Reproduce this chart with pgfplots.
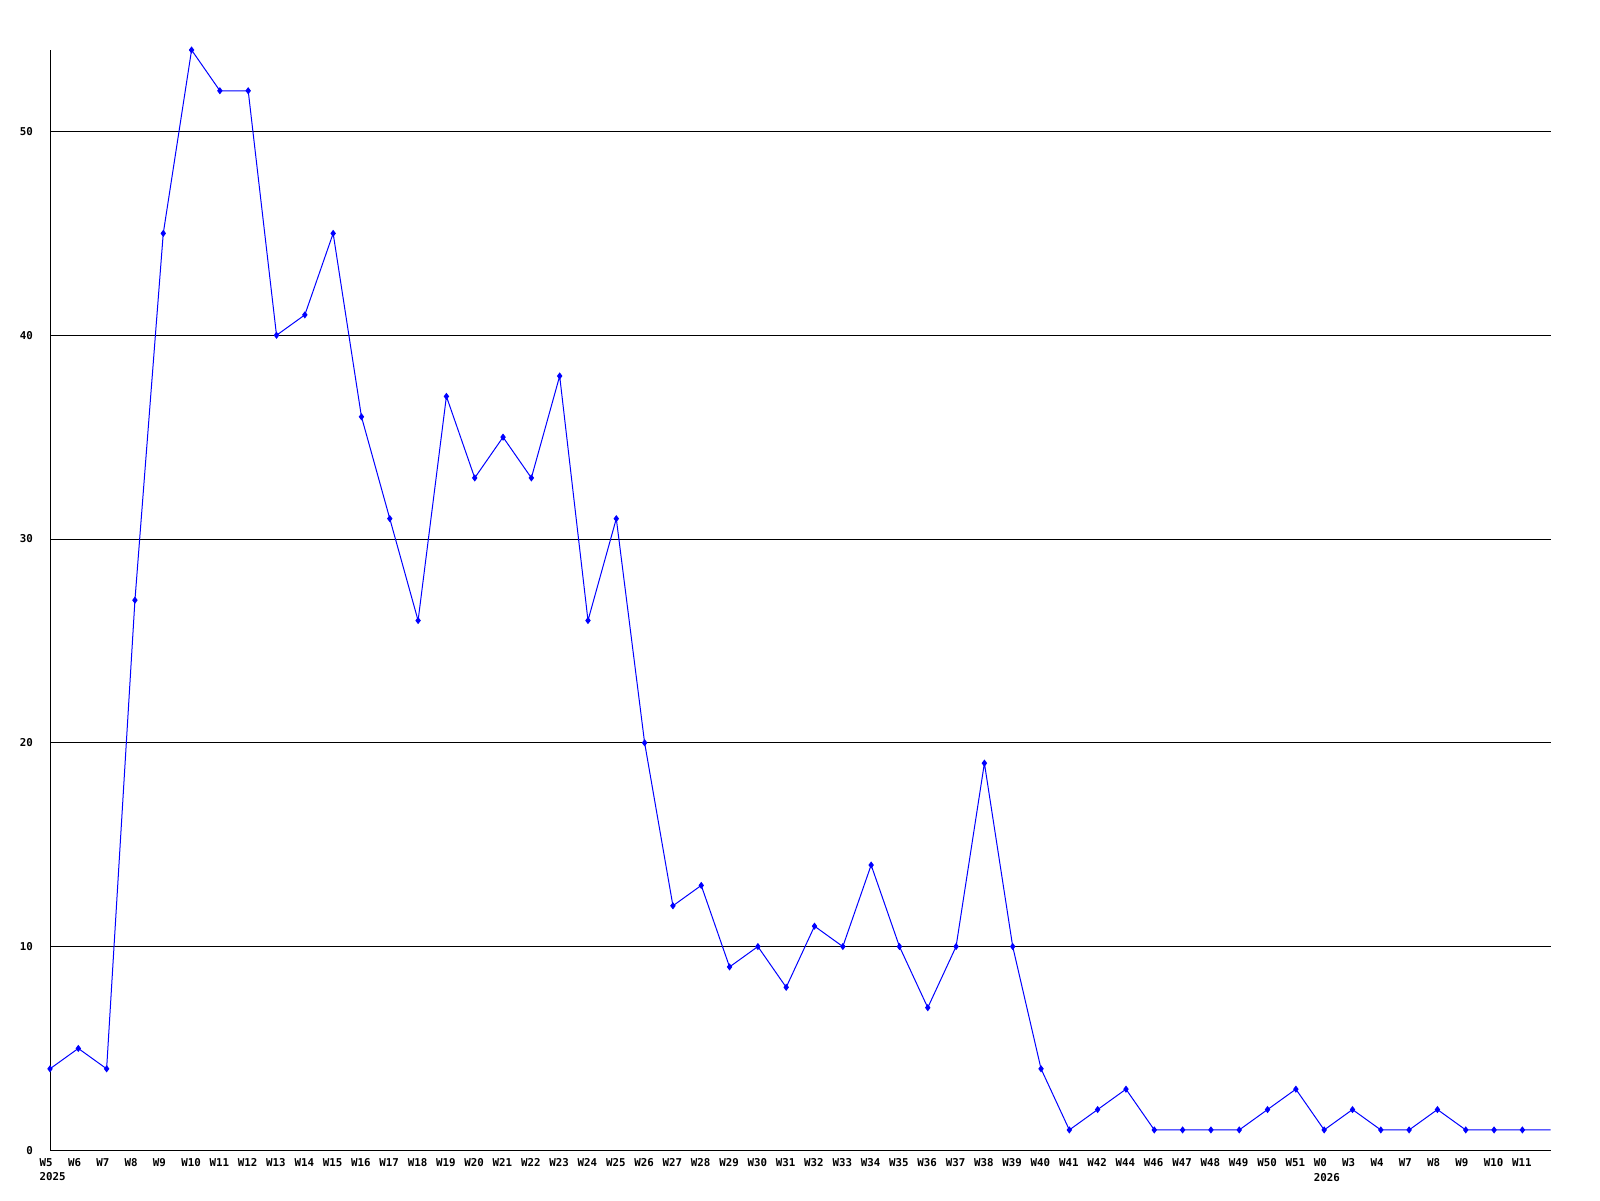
\documentclass[border=0pt]{standalone}
\usepackage{fontspec}
\setmonofont{DejaVu Sans Mono}
\usepackage{pgfplots}
\pgfplotsset{compat=1.18}
\definecolor{series}{RGB}{0,0,255}

\pgfplotstableread{
idx val
0 4
1 5
2 4
3 27
4 45
5 54
6 52
7 52
8 40
9 41
10 45
11 36
12 31
13 26
14 37
15 33
16 35
17 33
18 38
19 26
20 31
21 20
22 12
23 13
24 9
25 10
26 8
27 11
28 10
29 14
30 10
31 7
32 10
33 19
34 10
35 4
36 1
37 2
38 3
39 1
40 1
41 1
42 1
43 2
44 3
45 1
46 2
47 1
48 1
49 2
50 1
51 1
52 1
53 1
}\weekly
\usepackage{pgfplotstable}

\begin{document}
\begin{tikzpicture}
\begin{axis}[scale only axis,width=750.35pt,height=550.15pt,
  xmin=0,xmax=53,ymin=0,ymax=54,
  axis lines=left,axis line style={black,line width=0.5pt,-},
  xtick={0,...,52},
  xticklabels={{W5\\2025},W6,W7,W8,W9,W10,W11,W12,W13,W14,W15,W16,W17,W18,W19,W20,W21,W22,W23,W24,W25,W26,W27,W28,W29,W30,W31,W32,W33,W34,W35,W36,W37,W38,W39,W40,W41,W42,W44,W46,W47,W48,W49,W50,W51,{W0\\2026},W3,W4,W7,W8,W9,W10,W11},
  ytick={0,10,20,30,40,50},
  major tick length=0pt,
  ymajorgrids,grid style={black,line width=0.5pt},
  tick label style={font=\fontsize{5.4}{7.2}\selectfont\ttfamily\bfseries},
  xticklabel style={anchor=north west,inner sep=0pt,align=left,xshift=-5.35pt,yshift=-4pt},
  yticklabel style={anchor=east,inner sep=0pt,xshift=-8.35pt},
  /pgf/number format/assume math mode=true,
  clip=false]
\addplot[series,line width=0.5pt,mark=diamond*,mark size=1.4pt,mark indices={1,...,53}] table[x=idx,y=val] {\weekly};
\end{axis}
\path (current axis.south west) ++(-25pt,-24.85pt) rectangle ++(800pt,600pt);
\end{tikzpicture}
\end{document}
